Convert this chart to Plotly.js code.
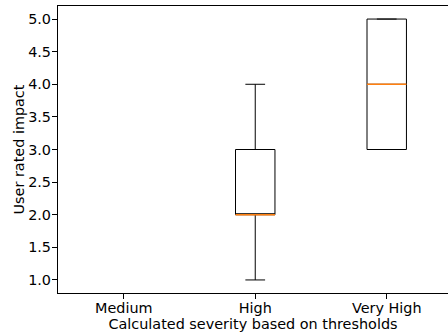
<!DOCTYPE html>
<html>
<head>
<meta charset="utf-8">
<script src="https://cdn.plot.ly/plotly-3.0.1.min.js"></script>
<style>html,body{margin:0;padding:0;overflow:hidden;background:#fff;}</style>
</head>
<body>
<div id="chart" style="width:448px;height:335px;"></div>
<script>
// Categories and box statistics
const categories = ["Medium", "High", "Very High"];
const positions = [1, 2, 3];
// Medium has no data
const boxPositions = [2, 3];
const lowerFence = [1.0, 3.0];
const q1 = [2.0, 3.0];
const median = [2.0, 4.0];
const q3 = [3.0, 5.0];
const upperFence = [4.0, 5.0];
const yTicks = [1.0, 1.5, 2.0, 2.5, 3.0, 3.5, 4.0, 4.5, 5.0];

const boxWidth = 0.3;
const font = {family: "DejaVu Sans", size: 14.4, color: "#000"};

const trace = {
  type: "box",
  x: boxPositions,
  q1: q1,
  median: median,
  q3: q3,
  lowerfence: lowerFence,
  upperfence: upperFence,
  width: boxWidth,
  whiskerwidth: 0.5,
  line: {color: "#000", width: 1},
  fillcolor: "rgba(0,0,0,0)",
  boxpoints: false,
  showlegend: false,
  hoverinfo: "skip"
};

const shapes = boxPositions.map((p, i) => ({
  type: "line", xref: "x", yref: "y",
  x0: p - boxWidth / 2, x1: p + boxWidth / 2,
  y0: median[i], y1: median[i],
  line: {color: "#ff7f0e", width: 1.3},
  layer: "above"
}));

const layout = {
  width: 448, height: 335,
  margin: {l: 58, r: 0, t: 6, b: 42},
  paper_bgcolor: "#fff", plot_bgcolor: "#fff",
  font: font,
  shapes: shapes,
  xaxis: {
    range: [0.5, 3.466],
    tickvals: positions, ticktext: categories,
    showgrid: false, zeroline: false,
    showline: true, linecolor: "#000", linewidth: 1.1, mirror: true,
    ticks: "outside", ticklen: 5, tickwidth: 1, tickcolor: "#000",
    ticklabelstandoff: -3,
    tickfont: font,
    title: {text: "Calculated severity based on thresholds", font: font, standoff: 0}
  },
  yaxis: {
    range: [0.8, 5.2],
    tickvals: yTicks, ticktext: yTicks.map(v => v.toFixed(1)),
    showgrid: false, zeroline: false,
    showline: true, linecolor: "#000", linewidth: 1.1,
    ticks: "outside", ticklen: 5, tickwidth: 1, tickcolor: "#000",
    ticklabelstandoff: -2,
    tickfont: font,
    title: {text: "User rated impact", font: font, standoff: 0}
  }
};

Plotly.newPlot("chart", [trace], layout, {displayModeBar: false, staticPlot: true});
</script>
</body>
</html>
